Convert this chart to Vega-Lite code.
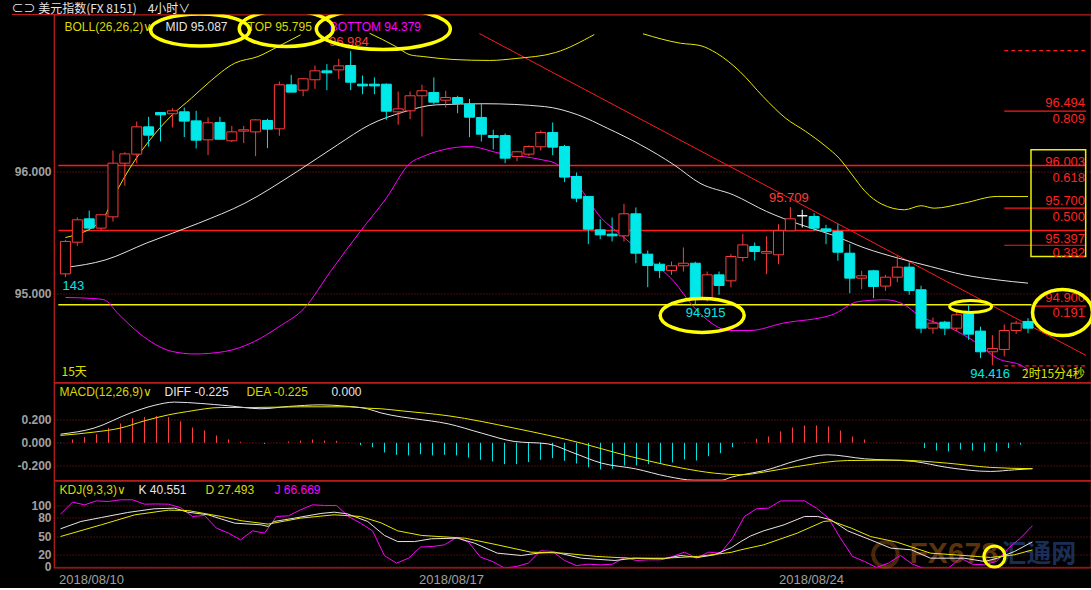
{
"$schema": "https://vega.github.io/schema/vega-lite/v6.json",
"background": "#000000",
"padding": {"left": 5, "top": 1.5, "right": 0, "bottom": 0},
"spacing": 0,
"bounds": "flush",
"resolve": {"scale": {"color": "independent"}},
"config": {
 "view": {"stroke": "#c01e1e", "strokeWidth": 1.2},
 "axis": {"domain": false, "ticks": false, "tickSize": 0, "labelColor": "#a0a0a0", "labelFont": "Liberation Sans", "labelFontSize": 12, "labelFontWeight": "bold", "gridColor": "#8e1b1b", "gridDash": [1, 2], "gridWidth": 1},
 "text": {"font": "Liberation Sans", "fontSize": 12, "baseline": "middle", "align": "left"},
 "line": {"strokeWidth": 1},
 "rule": {"strokeWidth": 1}
},
"datasets": {
 "candles": [
 {"k":0,"o":95.163,"h":95.441,"l":95.136,"c":95.428},
 {"k":1,"o":95.422,"h":95.624,"l":95.392,"c":95.605},
 {"k":2,"o":95.613,"h":95.681,"l":95.518,"c":95.537},
 {"k":3,"o":95.537,"h":95.651,"l":95.518,"c":95.646},
 {"k":4,"o":95.629,"h":96.172,"l":95.591,"c":96.068},
 {"k":5,"o":96.068,"h":96.158,"l":95.883,"c":96.144},
 {"k":6,"o":96.142,"h":96.409,"l":96.068,"c":96.365},
 {"k":7,"o":96.365,"h":96.447,"l":96.204,"c":96.297},
 {"k":8,"o":96.482,"h":96.482,"l":96.245,"c":96.463},
 {"k":9,"o":96.472,"h":96.518,"l":96.36,"c":96.496},
 {"k":10,"o":96.488,"h":96.523,"l":96.281,"c":96.412},
 {"k":11,"o":96.414,"h":96.496,"l":96.188,"c":96.256},
 {"k":12,"o":96.259,"h":96.442,"l":96.134,"c":96.398},
 {"k":13,"o":96.401,"h":96.447,"l":96.259,"c":96.264},
 {"k":14,"o":96.251,"h":96.373,"l":96.24,"c":96.324},
 {"k":15,"o":96.33,"h":96.373,"l":96.232,"c":96.341},
 {"k":16,"o":96.324,"h":96.428,"l":96.125,"c":96.422},
 {"k":17,"o":96.417,"h":96.431,"l":96.191,"c":96.346},
 {"k":18,"o":96.349,"h":96.736,"l":96.292,"c":96.709},
 {"k":19,"o":96.709,"h":96.79,"l":96.649,"c":96.649},
 {"k":20,"o":96.665,"h":96.763,"l":96.616,"c":96.758},
 {"k":21,"o":96.75,"h":96.867,"l":96.676,"c":96.823},
 {"k":22,"o":96.823,"h":96.878,"l":96.665,"c":96.807},
 {"k":23,"o":96.831,"h":96.921,"l":96.755,"c":96.864},
 {"k":24,"o":96.867,"h":96.984,"l":96.665,"c":96.73},
 {"k":25,"o":96.714,"h":96.785,"l":96.632,"c":96.7},
 {"k":26,"o":96.714,"h":96.769,"l":96.632,"c":96.7},
 {"k":27,"o":96.714,"h":96.72,"l":96.422,"c":96.493},
 {"k":28,"o":96.488,"h":96.654,"l":96.382,"c":96.512},
 {"k":29,"o":96.496,"h":96.654,"l":96.428,"c":96.619},
 {"k":30,"o":96.619,"h":96.709,"l":96.286,"c":96.66},
 {"k":31,"o":96.646,"h":96.769,"l":96.551,"c":96.567},
 {"k":32,"o":96.583,"h":96.66,"l":96.523,"c":96.605},
 {"k":33,"o":96.605,"h":96.619,"l":96.477,"c":96.556},
 {"k":34,"o":96.551,"h":96.594,"l":96.281,"c":96.444},
 {"k":35,"o":96.442,"h":96.551,"l":96.245,"c":96.305},
 {"k":36,"o":96.294,"h":96.341,"l":96.18,"c":96.278},
 {"k":37,"o":96.294,"h":96.311,"l":96.068,"c":96.109},
 {"k":38,"o":96.123,"h":96.169,"l":96.084,"c":96.161},
 {"k":39,"o":96.142,"h":96.213,"l":96.125,"c":96.204},
 {"k":40,"o":96.202,"h":96.335,"l":96.172,"c":96.319},
 {"k":41,"o":96.319,"h":96.401,"l":96.134,"c":96.199},
 {"k":42,"o":96.204,"h":96.218,"l":95.913,"c":95.954},
 {"k":43,"o":95.959,"h":95.992,"l":95.749,"c":95.782},
 {"k":44,"o":95.796,"h":95.796,"l":95.406,"c":95.528},
 {"k":45,"o":95.523,"h":95.61,"l":95.447,"c":95.482},
 {"k":46,"o":95.488,"h":95.624,"l":95.428,"c":95.474},
 {"k":47,"o":95.474,"h":95.736,"l":95.428,"c":95.654},
 {"k":48,"o":95.654,"h":95.706,"l":95.25,"c":95.332},
 {"k":49,"o":95.324,"h":95.354,"l":95.054,"c":95.231},
 {"k":50,"o":95.242,"h":95.259,"l":95.128,"c":95.191},
 {"k":51,"o":95.191,"h":95.264,"l":95.155,"c":95.229},
 {"k":52,"o":95.229,"h":95.379,"l":95.182,"c":95.25},
 {"k":53,"o":95.25,"h":95.262,"l":94.915,"c":94.955},
 {"k":54,"o":94.959,"h":95.182,"l":94.937,"c":95.155},
 {"k":55,"o":95.155,"h":95.182,"l":94.992,"c":95.068},
 {"k":56,"o":95.106,"h":95.324,"l":95.052,"c":95.305},
 {"k":57,"o":95.297,"h":95.49,"l":95.264,"c":95.4},
 {"k":58,"o":95.387,"h":95.419,"l":95.272,"c":95.346},
 {"k":59,"o":95.332,"h":95.469,"l":95.161,"c":95.346},
 {"k":60,"o":95.319,"h":95.569,"l":95.242,"c":95.515},
 {"k":61,"o":95.515,"h":95.709,"l":95.515,"c":95.613},
 {"k":62,"o":95.638,"h":95.687,"l":95.542,"c":95.638},
 {"k":63,"o":95.632,"h":95.659,"l":95.515,"c":95.537},
 {"k":64,"o":95.531,"h":95.564,"l":95.406,"c":95.51},
 {"k":65,"o":95.51,"h":95.569,"l":95.27,"c":95.34},
 {"k":66,"o":95.332,"h":95.406,"l":95.005,"c":95.128},
 {"k":67,"o":95.128,"h":95.188,"l":95.038,"c":95.147},
 {"k":68,"o":95.188,"h":95.196,"l":94.964,"c":95.06},
 {"k":69,"o":95.063,"h":95.155,"l":95.024,"c":95.136},
 {"k":70,"o":95.136,"h":95.313,"l":95.095,"c":95.218},
 {"k":71,"o":95.218,"h":95.256,"l":94.992,"c":95.027},
 {"k":72,"o":95.033,"h":95.066,"l":94.678,"c":94.719},
 {"k":73,"o":94.719,"h":94.806,"l":94.673,"c":94.76},
 {"k":74,"o":94.768,"h":94.779,"l":94.662,"c":94.719},
 {"k":75,"o":94.719,"h":94.869,"l":94.695,"c":94.828},
 {"k":76,"o":94.836,"h":94.91,"l":94.624,"c":94.67},
 {"k":77,"o":94.695,"h":94.731,"l":94.474,"c":94.526},
 {"k":78,"o":94.526,"h":94.662,"l":94.416,"c":94.553},
 {"k":79,"o":94.545,"h":94.749,"l":94.488,"c":94.7},
 {"k":80,"o":94.7,"h":94.779,"l":94.673,"c":94.76},
 {"k":81,"o":94.774,"h":94.801,"l":94.678,"c":94.719}
 ],
 "boll": [
 {"k":0,"b":"MID","g":1,"v":95.215},{"k":3.4,"b":"MID","g":1,"v":95.278},{"k":6.8,"b":"MID","g":1,"v":95.414},{"k":11.2,"b":"MID","g":1,"v":95.577},{"k":15.1,"b":"MID","g":1,"v":95.741},{"k":19.5,"b":"MID","g":1,"v":96.0},{"k":22.9,"b":"MID","g":1,"v":96.218},{"k":25.6,"b":"MID","g":1,"v":96.382},{"k":28.4,"b":"MID","g":1,"v":96.485},{"k":31.2,"b":"MID","g":1,"v":96.545},{"k":35.3,"b":"MID","g":1,"v":96.554},{"k":40.3,"b":"MID","g":1,"v":96.531},{"k":43.1,"b":"MID","g":1,"v":96.464},{"k":45.6,"b":"MID","g":1,"v":96.354},{"k":48.4,"b":"MID","g":1,"v":96.218},{"k":51.2,"b":"MID","g":1,"v":96.055},{"k":53.4,"b":"MID","g":1,"v":95.904},{"k":56.2,"b":"MID","g":1,"v":95.809},{"k":59,"b":"MID","g":1,"v":95.673},{"k":61.8,"b":"MID","g":1,"v":95.567},{"k":64.5,"b":"MID","g":1,"v":95.482},{"k":67.3,"b":"MID","g":1,"v":95.373},{"k":70.1,"b":"MID","g":1,"v":95.291},{"k":72.8,"b":"MID","g":1,"v":95.223},{"k":75.6,"b":"MID","g":1,"v":95.155},{"k":78.4,"b":"MID","g":1,"v":95.114},{"k":81,"b":"MID","g":1,"v":95.087},
 {"k":0,"b":"TOP","g":1,"v":95.46},{"k":3.1,"b":"TOP","g":1,"v":95.605},{"k":4.1,"b":"TOP","g":1,"v":95.8},{"k":5.6,"b":"TOP","g":1,"v":96.055},{"k":7,"b":"TOP","g":1,"v":96.245},{"k":9,"b":"TOP","g":1,"v":96.464},{"k":10.6,"b":"TOP","g":1,"v":96.599},{"k":12,"b":"TOP","g":1,"v":96.722},{"k":14.25,"b":"TOP","g":1,"v":96.886},{"k":16.2,"b":"TOP","g":1,"v":96.94},{"k":17.9,"b":"TOP","g":1,"v":97.022},{"k":19.8,"b":"TOP","g":1,"v":97.118},
 {"k":25.6,"b":"TOP","g":2,"v":97.13},{"k":27.8,"b":"TOP","g":2,"v":97.022},{"k":29,"b":"TOP","g":2,"v":96.954},{"k":30.1,"b":"TOP","g":2,"v":96.94},{"k":32.6,"b":"TOP","g":2,"v":96.916},{"k":35.7,"b":"TOP","g":2,"v":96.908},{"k":37.9,"b":"TOP","g":2,"v":96.924},{"k":41.25,"b":"TOP","g":2,"v":96.973},{"k":44.5,"b":"TOP","g":2,"v":97.12},
 {"k":48.6,"b":"TOP","g":3,"v":97.126},{"k":51.75,"b":"TOP","g":3,"v":97.049},{"k":53.4,"b":"TOP","g":3,"v":97.03},{"k":54.8,"b":"TOP","g":3,"v":96.967},{"k":56.75,"b":"TOP","g":3,"v":96.818},{"k":58.7,"b":"TOP","g":3,"v":96.613},{"k":60.6,"b":"TOP","g":3,"v":96.436},{"k":62.3,"b":"TOP","g":3,"v":96.327},{"k":64,"b":"TOP","g":3,"v":96.204},{"k":65.1,"b":"TOP","g":3,"v":96.109},{"k":66.2,"b":"TOP","g":3,"v":95.973},{"k":67.3,"b":"TOP","g":3,"v":95.836},{"k":68.7,"b":"TOP","g":3,"v":95.733},{"k":70.6,"b":"TOP","g":3,"v":95.687},{"k":72,"b":"TOP","g":3,"v":95.72},{"k":73.1,"b":"TOP","g":3,"v":95.7},{"k":75.6,"b":"TOP","g":3,"v":95.741},{"k":78.4,"b":"TOP","g":3,"v":95.796},{"k":81,"b":"TOP","g":3,"v":95.795},
 {"k":0,"b":"BOTTOM","g":1,"v":94.97},{"k":2.2,"b":"BOTTOM","g":1,"v":94.962},{"k":3.2,"b":"BOTTOM","g":1,"v":94.953},{"k":4.5,"b":"BOTTOM","g":1,"v":94.831},{"k":6.2,"b":"BOTTOM","g":1,"v":94.678},{"k":9,"b":"BOTTOM","g":1,"v":94.528},{"k":10.9,"b":"BOTTOM","g":1,"v":94.508},{"k":13.4,"b":"BOTTOM","g":1,"v":94.528},{"k":15.9,"b":"BOTTOM","g":1,"v":94.61},{"k":18,"b":"BOTTOM","g":1,"v":94.733},{"k":20.1,"b":"BOTTOM","g":1,"v":94.882},{"k":22.3,"b":"BOTTOM","g":1,"v":95.182},{"k":24.8,"b":"BOTTOM","g":1,"v":95.509},{"k":27,"b":"BOTTOM","g":1,"v":95.782},{"k":29,"b":"BOTTOM","g":1,"v":96.068},{"k":30.1,"b":"BOTTOM","g":1,"v":96.123},{"k":31.75,"b":"BOTTOM","g":1,"v":96.177},{"k":34,"b":"BOTTOM","g":1,"v":96.204},{"k":36.5,"b":"BOTTOM","g":1,"v":96.15},{"k":40.1,"b":"BOTTOM","g":1,"v":96.096},{"k":41.2,"b":"BOTTOM","g":1,"v":96.068},{"k":43.1,"b":"BOTTOM","g":1,"v":95.891},{"k":45.1,"b":"BOTTOM","g":1,"v":95.618},{"k":46.75,"b":"BOTTOM","g":1,"v":95.482},{"k":49,"b":"BOTTOM","g":1,"v":95.291},{"k":51.2,"b":"BOTTOM","g":1,"v":95.101},{"k":52.8,"b":"BOTTOM","g":1,"v":94.9},{"k":53.4,"b":"BOTTOM","g":1,"v":94.84},{"k":55.9,"b":"BOTTOM","g":1,"v":94.7},{"k":57.6,"b":"BOTTOM","g":1,"v":94.7},{"k":60.4,"b":"BOTTOM","g":1,"v":94.76},{"k":64.5,"b":"BOTTOM","g":1,"v":94.828},{"k":66.75,"b":"BOTTOM","g":1,"v":94.937},{"k":69,"b":"BOTTOM","g":1,"v":94.951},{"k":70.6,"b":"BOTTOM","g":1,"v":94.91},{"k":71.75,"b":"BOTTOM","g":1,"v":94.828},{"k":74.5,"b":"BOTTOM","g":1,"v":94.719},{"k":76.5,"b":"BOTTOM","g":1,"v":94.61},{"k":78.4,"b":"BOTTOM","g":1,"v":94.473},{"k":80.6,"b":"BOTTOM","g":1,"v":94.406},{"k":81,"b":"BOTTOM","g":1,"v":94.379}
 ],
 "macdH": [
 {"k":0,"v":-0.003},{"k":1,"v":0.029},{"k":2,"v":0.049},{"k":3,"v":0.075},{"k":4,"v":0.13},{"k":5,"v":0.168},{"k":6,"v":0.214},{"k":7,"v":0.223},{"k":8,"v":0.232},{"k":9,"v":0.223},{"k":10,"v":0.186},{"k":11,"v":0.133},{"k":12,"v":0.107},{"k":13,"v":0.064},{"k":14,"v":0.029},{"k":15,"v":0.009},{"k":16,"v":0.002},{"k":17,"v":-0.009},{"k":18,"v":0.002},{"k":19,"v":0.012},{"k":20,"v":0.02},{"k":21,"v":0.029},{"k":22,"v":0.02},{"k":23,"v":0.017},{"k":24,"v":0.001},{"k":25,"v":-0.02},{"k":26,"v":-0.038},{"k":27,"v":-0.084},{"k":28,"v":-0.104},{"k":29,"v":-0.11},{"k":30,"v":-0.099},{"k":31,"v":-0.11},{"k":32,"v":-0.104},{"k":33,"v":-0.11},{"k":34,"v":-0.128},{"k":35,"v":-0.148},{"k":36,"v":-0.162},{"k":37,"v":-0.186},{"k":38,"v":-0.186},{"k":39,"v":-0.168},{"k":40,"v":-0.148},{"k":41,"v":-0.133},{"k":42,"v":-0.157},{"k":43,"v":-0.18},{"k":44,"v":-0.214},{"k":45,"v":-0.232},{"k":46,"v":-0.226},{"k":47,"v":-0.197},{"k":48,"v":-0.197},{"k":49,"v":-0.186},{"k":50,"v":-0.177},{"k":51,"v":-0.171},{"k":52,"v":-0.145},{"k":53,"v":-0.154},{"k":54,"v":-0.116},{"k":55,"v":-0.09},{"k":56,"v":-0.038},{"k":57,"v":0.003},{"k":58,"v":0.035},{"k":59,"v":0.055},{"k":60,"v":0.099},{"k":61,"v":0.133},{"k":62,"v":0.151},{"k":63,"v":0.151},{"k":64,"v":0.142},{"k":65,"v":0.107},{"k":66,"v":0.055},{"k":67,"v":0.029},{"k":68,"v":0.003},{"k":69,"v":0.0},{"k":70,"v":0.003},{"k":71,"v":0.0},{"k":72,"v":-0.046},{"k":73,"v":-0.067},{"k":74,"v":-0.075},{"k":75,"v":-0.058},{"k":76,"v":-0.067},{"k":77,"v":-0.075},{"k":78,"v":-0.075},{"k":79,"v":-0.046},{"k":80,"v":-0.017},{"k":81,"v":0.0}
 ],
 "macdL": [
 {"k":0,"s":"DIFF","v":0.075},{"k":2.8,"s":"DIFF","v":0.128},{"k":5.8,"s":"DIFF","v":0.258},{"k":7.8,"s":"DIFF","v":0.325},{"k":9.5,"s":"DIFF","v":0.354},{"k":11.7,"s":"DIFF","v":0.342},{"k":14,"s":"DIFF","v":0.322},{"k":16.7,"s":"DIFF","v":0.296},{"k":19,"s":"DIFF","v":0.316},{"k":21.7,"s":"DIFF","v":0.33},{"k":23.7,"s":"DIFF","v":0.319},{"k":25.6,"s":"DIFF","v":0.295},{"k":26.7,"s":"DIFF","v":0.26},{"k":28.4,"s":"DIFF","v":0.225},{"k":29.5,"s":"DIFF","v":0.209},{"k":32.3,"s":"DIFF","v":0.165},{"k":35.1,"s":"DIFF","v":0.084},{"k":37.8,"s":"DIFF","v":0.012},{"k":40.6,"s":"DIFF","v":-0.009},{"k":42.8,"s":"DIFF","v":-0.09},{"k":45.1,"s":"DIFF","v":-0.177},{"k":47.9,"s":"DIFF","v":-0.226},{"k":50.6,"s":"DIFF","v":-0.293},{"k":52.8,"s":"DIFF","v":-0.325},{"k":55.1,"s":"DIFF","v":-0.325},{"k":55.9,"s":"DIFF","v":-0.299},{"k":56.8,"s":"DIFF","v":-0.278},{"k":58.6,"s":"DIFF","v":-0.243},{"k":61.4,"s":"DIFF","v":-0.154},{"k":63.9,"s":"DIFF","v":-0.104},{"k":67,"s":"DIFF","v":-0.139},{"k":71.1,"s":"DIFF","v":-0.162},{"k":73.9,"s":"DIFF","v":-0.214},{"k":77.5,"s":"DIFF","v":-0.249},{"k":79.5,"s":"DIFF","v":-0.235},{"k":81,"s":"DIFF","v":-0.225},
 {"k":0,"s":"DEA","v":0.064},{"k":2.8,"s":"DEA","v":0.093},{"k":5,"s":"DEA","v":0.128},{"k":7,"s":"DEA","v":0.191},{"k":9,"s":"DEA","v":0.243},{"k":10.6,"s":"DEA","v":0.272},{"k":13.4,"s":"DEA","v":0.307},{"k":16.2,"s":"DEA","v":0.307},{"k":20,"s":"DEA","v":0.313},{"k":24,"s":"DEA","v":0.313},{"k":25.6,"s":"DEA","v":0.301},{"k":26.7,"s":"DEA","v":0.296},{"k":28.4,"s":"DEA","v":0.278},{"k":32.3,"s":"DEA","v":0.235},{"k":37.8,"s":"DEA","v":0.128},{"k":43.4,"s":"DEA","v":-0.003},{"k":46.2,"s":"DEA","v":-0.084},{"k":49,"s":"DEA","v":-0.157},{"k":51.8,"s":"DEA","v":-0.22},{"k":54.5,"s":"DEA","v":-0.264},{"k":56.8,"s":"DEA","v":-0.278},{"k":58.6,"s":"DEA","v":-0.255},{"k":61.4,"s":"DEA","v":-0.206},{"k":65.6,"s":"DEA","v":-0.154},{"k":69.8,"s":"DEA","v":-0.151},{"k":73.9,"s":"DEA","v":-0.177},{"k":77.5,"s":"DEA","v":-0.214},{"k":81,"s":"DEA","v":-0.225}
 ],
 "kdj": [
 {"k":0,"s":"J","v":85.5},{"k":1,"s":"J","v":105},{"k":2,"s":"J","v":100.6},{"k":3,"s":"J","v":107},{"k":4,"s":"J","v":106},{"k":5,"s":"J","v":108.8},{"k":6,"s":"J","v":108.8},{"k":7,"s":"J","v":101.7},{"k":8,"s":"J","v":102},{"k":9,"s":"J","v":101.7},{"k":10,"s":"J","v":96},{"k":11,"s":"J","v":81.7},{"k":12,"s":"J","v":83.3},{"k":13,"s":"J","v":62.8},{"k":14,"s":"J","v":54.7},{"k":15,"s":"J","v":43.8},{"k":16,"s":"J","v":58.4},{"k":17,"s":"J","v":54.7},{"k":18,"s":"J","v":81.7},{"k":19,"s":"J","v":82.8},{"k":20,"s":"J","v":92.5},{"k":21,"s":"J","v":100.6},{"k":22,"s":"J","v":99.6},{"k":23,"s":"J","v":99.6},{"k":24,"s":"J","v":81.7},{"k":25,"s":"J","v":70.9},{"k":26,"s":"J","v":58.4},{"k":27,"s":"J","v":18},{"k":28,"s":"J","v":6},{"k":29,"s":"J","v":14},{"k":30,"s":"J","v":32},{"k":31,"s":"J","v":33},{"k":32,"s":"J","v":35.7},{"k":33,"s":"J","v":47.6},{"k":34,"s":"J","v":40},{"k":35,"s":"J","v":15.7},{"k":36,"s":"J","v":8.7},{"k":37,"s":"J","v":-2},{"k":38,"s":"J","v":0.5},{"k":39,"s":"J","v":6},{"k":40,"s":"J","v":26},{"k":41,"s":"J","v":25},{"k":42,"s":"J","v":10.3},{"k":43,"s":"J","v":2},{"k":44,"s":"J","v":4.3},{"k":45,"s":"J","v":3.2},{"k":46,"s":"J","v":4.3},{"k":47,"s":"J","v":15},{"k":48,"s":"J","v":10.3},{"k":49,"s":"J","v":11.4},{"k":50,"s":"J","v":11.4},{"k":51,"s":"J","v":16.8},{"k":52,"s":"J","v":23.8},{"k":53,"s":"J","v":14},{"k":54,"s":"J","v":23.8},{"k":55,"s":"J","v":22.2},{"k":56,"s":"J","v":46.5},{"k":57,"s":"J","v":81.7},{"k":58,"s":"J","v":94.2},{"k":59,"s":"J","v":95.2},{"k":60,"s":"J","v":107},{"k":61,"s":"J","v":107},{"k":62,"s":"J","v":107},{"k":63,"s":"J","v":95.2},{"k":64,"s":"J","v":79},{"k":65,"s":"J","v":46.5},{"k":66,"s":"J","v":16.8},{"k":67,"s":"J","v":8.7},{"k":68,"s":"J","v":-1},{"k":69,"s":"J","v":6},{"k":70,"s":"J","v":18.4},{"k":71,"s":"J","v":4.3},{"k":72,"s":"J","v":-3},{"k":73,"s":"J","v":-2},{"k":74,"s":"J","v":-2},{"k":75,"s":"J","v":14},{"k":76,"s":"J","v":4.3},{"k":77,"s":"J","v":3.2},{"k":78,"s":"J","v":8.7},{"k":79,"s":"J","v":30.3},{"k":80,"s":"J","v":46.5},{"k":81,"s":"J","v":66.669},
 {"k":0,"s":"K","v":61.7},{"k":1.7,"s":"K","v":73.6},{"k":3.4,"s":"K","v":80},{"k":5.6,"s":"K","v":88.2},{"k":7.8,"s":"K","v":94.2},{"k":9.5,"s":"K","v":95.2},{"k":10.6,"s":"K","v":88.7},{"k":12.3,"s":"K","v":84.4},{"k":14.5,"s":"K","v":70.9},{"k":16.7,"s":"K","v":68.2},{"k":17.3,"s":"K","v":65.5},{"k":17.8,"s":"K","v":73.6},{"k":19.5,"s":"K","v":79},{"k":21.7,"s":"K","v":86.6},{"k":22.8,"s":"K","v":88.7},{"k":23.9,"s":"K","v":86},{"k":25.6,"s":"K","v":73.6},{"k":27,"s":"K","v":50.9},{"k":28.1,"s":"K","v":41},{"k":29.5,"s":"K","v":41},{"k":30.9,"s":"K","v":45.5},{"k":33.1,"s":"K","v":46.5},{"k":34.5,"s":"K","v":38.4},{"k":36.4,"s":"K","v":22.2},{"k":38.4,"s":"K","v":18.4},{"k":39.8,"s":"K","v":22.2},{"k":41.2,"s":"K","v":23.8},{"k":43.4,"s":"K","v":14},{"k":46.2,"s":"K","v":10.3},{"k":47.8,"s":"K","v":14},{"k":50.3,"s":"K","v":13},{"k":51.7,"s":"K","v":18.4},{"k":53.1,"s":"K","v":15.2},{"k":54.5,"s":"K","v":19.5},{"k":55.9,"s":"K","v":31},{"k":56.7,"s":"K","v":41},{"k":57.5,"s":"K","v":50},{"k":58.6,"s":"K","v":58.4},{"k":60.3,"s":"K","v":68.2},{"k":62,"s":"K","v":81.7},{"k":63.1,"s":"K","v":81.7},{"k":64.2,"s":"K","v":76.3},{"k":65.6,"s":"K","v":58.4},{"k":67.5,"s":"K","v":43.8},{"k":69.2,"s":"K","v":30.3},{"k":70.9,"s":"K","v":27.6},{"k":72.5,"s":"K","v":14},{"k":75.3,"s":"K","v":14},{"k":77,"s":"K","v":8.7},{"k":78.1,"s":"K","v":14},{"k":79.5,"s":"K","v":24.9},{"k":81,"s":"K","v":40.551},
 {"k":0,"s":"D","v":49.2},{"k":3.4,"s":"D","v":68.2},{"k":6.2,"s":"D","v":84.4},{"k":9,"s":"D","v":92},{"k":10.6,"s":"D","v":91.4},{"k":13.4,"s":"D","v":81.7},{"k":15.1,"s":"D","v":74.7},{"k":17.3,"s":"D","v":69.3},{"k":20,"s":"D","v":79},{"k":22.8,"s":"D","v":84.4},{"k":25,"s":"D","v":81.7},{"k":26.7,"s":"D","v":71.5},{"k":28.1,"s":"D","v":58.4},{"k":30.1,"s":"D","v":50.9},{"k":33.7,"s":"D","v":46.5},{"k":36.4,"s":"D","v":35.7},{"k":39.2,"s":"D","v":23.8},{"k":41.9,"s":"D","v":22.2},{"k":44.7,"s":"D","v":16.8},{"k":47.5,"s":"D","v":14},{"k":50.3,"s":"D","v":14},{"k":53.1,"s":"D","v":16.8},{"k":55.9,"s":"D","v":23.5},{"k":56.7,"s":"D","v":27.6},{"k":58.6,"s":"D","v":35.7},{"k":61.4,"s":"D","v":54.7},{"k":63.6,"s":"D","v":73.6},{"k":64.2,"s":"D","v":74.7},{"k":65.9,"s":"D","v":62.8},{"k":67.5,"s":"D","v":49.2},{"k":69.7,"s":"D","v":40},{"k":72.5,"s":"D","v":22.2},{"k":75.3,"s":"D","v":18.4},{"k":77.5,"s":"D","v":15.2},{"k":79.5,"s":"D","v":19.5},{"k":81,"s":"D","v":27.493}
 ]
},
"vconcat": [
{
 "width": 1037, "height": 368,
 "encoding": {
  "x": {"field": "k", "type": "quantitative", "scale": {"domain": [-0.5417, 85.878], "nice": false, "zero": false}, "axis": null},
  "y": {"field": "v", "type": "quantitative", "scale": {"domain": [94.2747, 97.2837], "nice": false, "zero": false}, "axis": {"values": [95, 96], "format": ".3f", "grid": true, "minExtent": 48, "maxExtent": 48, "labelPadding": 3, "title": null}}
 },
 "layer": [
  {"data": {"values": [{"k": -4.53, "v": 97.3287, "t": "⊂⊃ 美元指数(FX 8151)\u00a0\u00a0\u00a0\u00a04小时∨"}]}, "mark": {"type": "text", "color": "#e6e6e6", "font": "Noto Sans CJK SC", "fontSize": 12}, "encoding": {"text": {"field": "t"}}},
  {"data": {"values": [{"k": -4.53, "k2": -0.54, "v": 97.2837}]}, "mark": {"type": "rule", "color": "#c01e1e", "strokeWidth": 1.2}, "encoding": {"x2": {"field": "k2"}}},
  {"data": {"values": [{"k": -0.6, "k2": 85.9, "v": 96.049}, {"k": -0.6, "k2": 85.9, "v": 95.518}]}, "mark": {"type": "rule", "color": "#ff1a1a", "strokeWidth": 1.5}, "encoding": {"x2": {"field": "k2"}}},
  {"data": {"values": [{"k": -0.6, "k2": 81.3, "v": 94.91}]}, "mark": {"type": "rule", "color": "#f0f000", "strokeWidth": 1.5}, "encoding": {"x2": {"field": "k2"}}},
  {"data": {"values": [{"k": 79, "k2": 85.9, "v": 96.494}, {"k": 79, "k2": 85.9, "v": 95.7}, {"k": 79, "k2": 85.9, "v": 95.397}, {"k": 81.3, "k2": 85.9, "v": 94.9}]}, "mark": {"type": "rule", "color": "#ff1a1a", "strokeWidth": 1.2}, "encoding": {"x2": {"field": "k2"}}},
  {"data": {"values": [{"k": 79, "k2": 85.9, "v": 96.989}, {"k": 79, "k2": 85.9, "v": 94.41}]}, "mark": {"type": "rule", "color": "#ff1a1a", "strokeWidth": 1.2, "strokeDash": [4, 3]}, "encoding": {"x2": {"field": "k2"}}},
  {"data": {"values": [{"k": 34.83, "v": 97.128}, {"k": 85.878, "v": 94.496}]}, "mark": {"type": "line", "color": "#ff1a1a", "strokeWidth": 1}},
  {"data": {"values": [{"k": 81.25, "k2": 85.85, "v": 96.177, "v2": 95.305}]}, "mark": {"type": "rect", "fillOpacity": 0, "stroke": "#f0f000", "strokeWidth": 1.5}, "encoding": {"x2": {"field": "k2"}, "y2": {"field": "v2"}}},
  {"data": {"name": "boll"}, "mark": {"type": "line", "strokeWidth": 1, "interpolate": "monotone"}, "encoding": {"color": {"field": "b", "type": "nominal", "scale": {"domain": ["MID", "TOP", "BOTTOM"], "range": ["#e0e0e0", "#e8e800", "#ff00ff"]}, "legend": null}, "detail": {"field": "g"}}},
  {"data": {"name": "candles"}, "mark": {"type": "rule", "strokeWidth": 1},
   "encoding": {"y": {"field": "l", "type": "quantitative", "scale": {"domain": [94.2747, 97.2837], "nice": false, "zero": false}, "axis": {"values": [95, 96], "format": ".3f", "grid": true, "minExtent": 48, "maxExtent": 48, "labelPadding": 3, "title": null}}, "y2": {"field": "h"},
    "stroke": {"condition": [{"test": "datum.c == datum.o", "value": "#ffffff"}, {"test": "datum.c > datum.o", "value": "#ff3b3b"}], "value": "#00e8e8"}}},
  {"data": {"name": "candles"}, "mark": {"type": "bar", "size": 10, "strokeWidth": 1},
   "encoding": {"y": {"field": "o", "type": "quantitative", "scale": {"domain": [94.2747, 97.2837], "nice": false, "zero": false}, "axis": {"values": [95, 96], "format": ".3f", "grid": true, "minExtent": 48, "maxExtent": 48, "labelPadding": 3, "title": null}}, "y2": {"field": "c"},
    "fill": {"condition": [{"test": "datum.c == datum.o", "value": "#ffffff"}, {"test": "datum.c > datum.o", "value": "#000000"}], "value": "#00e8e8"},
    "stroke": {"condition": [{"test": "datum.c == datum.o", "value": "#ffffff"}, {"test": "datum.c > datum.o", "value": "#ff3b3b"}], "value": "#00e8e8"}}},
  {"data": {"values": [{"k": -0.08, "v": 97.181, "t": "BOLL(26,26,2)∨"}, {"k": 15.33, "v": 97.181, "t": "TOP 95.795"}]}, "mark": {"type": "text", "color": "#d8d800"}, "encoding": {"text": {"field": "t"}}},
  {"data": {"values": [{"k": 8.42, "v": 97.181, "t": "MID 95.087"}]}, "mark": {"type": "text", "color": "#e6e6e6"}, "encoding": {"text": {"field": "t"}}},
  {"data": {"values": [{"k": 22.25, "v": 97.181, "t": "BOTTOM 94.379"}]}, "mark": {"type": "text", "color": "#ff00ff"}, "encoding": {"text": {"field": "t"}}},
  {"data": {"values": [{"k": -0.33, "v": 94.357, "t": "15天"}, {"k": 80.5, "v": 94.343, "t": "2时15分4秒"}]}, "mark": {"type": "text", "color": "#e0e000", "font": "Noto Sans CJK SC", "fontSize": 12}, "encoding": {"text": {"field": "t"}}},
  {"data": {"values": [{"k": 22.17, "v": 97.055, "t": "96.984"}, {"k": 59.2, "v": 95.787, "t": "95.709"}]}, "mark": {"type": "text", "color": "#ff3b3b", "fontSize": 13}, "encoding": {"text": {"field": "t"}}},
  {"data": {"values": [{"k": -0.25, "v": 95.064, "t": "143"}, {"k": 52.2, "v": 94.841, "t": "94.915"}, {"k": 76.14, "v": 94.343, "t": "94.416"}]}, "mark": {"type": "text", "color": "#00e8e8", "fontSize": 13}, "encoding": {"text": {"field": "t"}}},
  {"data": {"values": [{"k": 85.8, "v": 96.558, "t": "96.494"}, {"k": 85.8, "v": 96.428, "t": "0.809"}, {"k": 85.8, "v": 96.074, "t": "96.003"}, {"k": 85.8, "v": 95.945, "t": "0.618"}, {"k": 85.8, "v": 95.76, "t": "95.700"}, {"k": 85.8, "v": 95.632, "t": "0.500"}, {"k": 85.8, "v": 95.45, "t": "95.397"}, {"k": 85.8, "v": 95.332, "t": "0.382"}, {"k": 85.8, "v": 94.964, "t": "94.900"}, {"k": 85.8, "v": 94.841, "t": "0.191"}]}, "mark": {"type": "text", "color": "#ff2222", "fontSize": 13, "align": "right"}, "encoding": {"text": {"field": "t"}}},
  {"data": {"values": [{"k": 11.33, "v": 97.157}]}, "mark": {"type": "point", "clip": true, "shape": "M-1,0A1,0.323,0,1,1,1,0A1,0.323,0,1,1,-1,0Z", "size": 9801, "filled": false, "color": "#ffff00", "strokeWidth": 3.5, "opacity": 1}},
  {"data": {"values": [{"k": 18.58, "v": 97.169}]}, "mark": {"type": "point", "clip": true, "shape": "M-1,0A1,0.383,0,1,1,1,0A1,0.383,0,1,1,-1,0Z", "size": 8836, "filled": false, "color": "#ffff00", "strokeWidth": 3.5, "opacity": 1}},
  {"data": {"values": [{"k": 26.75, "v": 97.165}]}, "mark": {"type": "point", "clip": true, "shape": "M-1,0A1,0.306,0,1,1,1,0A1,0.306,0,1,1,-1,0Z", "size": 17956, "filled": false, "color": "#ffff00", "strokeWidth": 3.5, "opacity": 1}},
  {"data": {"values": [{"k": 53.58, "v": 94.823}]}, "mark": {"type": "point", "clip": true, "shape": "M-1,0A1,0.405,0,1,1,1,0A1,0.405,0,1,1,-1,0Z", "size": 7056, "filled": false, "color": "#ffff00", "strokeWidth": 3.5, "opacity": 1}},
  {"data": {"values": [{"k": 76.17, "v": 94.896}]}, "mark": {"type": "point", "clip": true, "shape": "M-1,0A1,0.286,0,1,1,1,0A1,0.286,0,1,1,-1,0Z", "size": 1764, "filled": false, "color": "#ffff00", "strokeWidth": 3, "opacity": 1}},
  {"data": {"values": [{"k": 83.9, "v": 94.847}]}, "mark": {"type": "point", "clip": true, "shape": "M-1,0A1,0.767,0,1,1,1,0A1,0.767,0,1,1,-1,0Z", "size": 3600, "filled": false, "color": "#ffff00", "strokeWidth": 3.5, "opacity": 1}}
 ]
},
{
 "width": 1037, "height": 98,
 "encoding": {
  "x": {"field": "k", "type": "quantitative", "scale": {"domain": [-0.5417, 85.878], "nice": false, "zero": false}, "axis": null},
  "y": {"field": "v", "type": "quantitative", "scale": {"domain": [-0.3278, 0.5243], "nice": false, "zero": false}, "axis": {"values": [-0.2, 0, 0.2], "labelExpr": "datum.value < 0 ? '-' + format(-datum.value, '.3f') : format(datum.value, '.3f')", "grid": true, "minExtent": 48, "maxExtent": 48, "labelPadding": 3, "title": null}}
 },
 "layer": [
  {"data": {"name": "macdH"}, "mark": {"type": "rule", "strokeWidth": 1}, "encoding": {"y2": {"datum": 0}, "stroke": {"condition": {"test": "datum.v >= 0", "value": "#ff4040"}, "value": "#00e8e8"}}},
  {"data": {"name": "macdL"}, "mark": {"type": "line", "strokeWidth": 1, "interpolate": "monotone"}, "encoding": {"color": {"field": "s", "type": "nominal", "scale": {"domain": ["DIFF", "DEA"], "range": ["#e6e6e6", "#e8e800"]}, "legend": null}}},
  {"data": {"values": [{"k": -0.08, "v": 0.44, "t": "MACD(12,26,9)∨"}, {"k": 15.5, "v": 0.44, "t": "DEA -0.225"}]}, "mark": {"type": "text", "color": "#d8d800"}, "encoding": {"text": {"field": "t"}}},
  {"data": {"values": [{"k": 8.67, "v": 0.44, "t": "DIFF -0.225"}, {"k": 22.58, "v": 0.44, "t": "0.000"}]}, "mark": {"type": "text", "color": "#e6e6e6"}, "encoding": {"text": {"field": "t"}}}
 ]
},
{
 "width": 1037, "height": 87,
 "encoding": {
  "x": {"field": "k", "type": "quantitative", "scale": {"domain": [-0.5417, 85.878], "nice": false, "zero": false}, "axis": {"values": [0, 30, 60], "labelExpr": "datum.value == 0 ? '2018/08/10' : datum.value == 30 ? '2018/08/17' : '2018/08/24'", "labelAlign": "left", "labelOffset": -2, "labelFontSize": 13, "labelFontWeight": "normal", "labelColor": "#a0a0a0", "labelPadding": 6, "labelFlush": false, "labelOverlap": false, "grid": false, "title": null}},
  "y": {"field": "v", "type": "quantitative", "scale": {"domain": [-1.1, 140.1], "nice": false, "zero": false}, "axis": {"values": [0, 20, 50, 80, 100], "format": "d", "grid": true, "minExtent": 48, "maxExtent": 48, "labelPadding": 3, "title": null}}
 },
 "layer": [
  {"data": {"values": [{"k": 70.75, "v": 20, "t": "FX678"}]}, "mark": {"type": "text", "color": "#b5651d", "opacity": 0.5, "fontSize": 30, "fontWeight": "bold"}, "encoding": {"text": {"field": "t"}}},
  {"data": {"values": [{"k": 78.4, "v": 20, "t": "汇通网"}]}, "mark": {"type": "text", "color": "#2a4d8f", "opacity": 0.6, "fontSize": 25, "fontWeight": "bold", "font": "Noto Sans CJK SC"}, "encoding": {"text": {"field": "t"}}},
  {"data": {"values": [{"k": 68.75, "v": 20}]}, "mark": {"type": "point", "shape": "circle", "size": 600, "filled": false, "color": "#b5651d", "strokeWidth": 4, "opacity": 0.4}},
  {"data": {"name": "kdj"}, "mark": {"type": "line", "strokeWidth": 1, "clip": true}, "encoding": {"color": {"field": "s", "type": "nominal", "scale": {"domain": ["K", "D", "J"], "range": ["#e6e6e6", "#e8e800", "#ff00ff"]}, "legend": null}}},
  {"data": {"values": [{"k": -0.08, "v": 123.9, "t": "KDJ(9,3,3)∨"}, {"k": 12.08, "v": 123.9, "t": "D 27.493"}]}, "mark": {"type": "text", "color": "#d8d800"}, "encoding": {"text": {"field": "t"}}},
  {"data": {"values": [{"k": 6.5, "v": 123.9, "t": "K 40.551"}]}, "mark": {"type": "text", "color": "#e6e6e6"}, "encoding": {"text": {"field": "t"}}},
  {"data": {"values": [{"k": 17.83, "v": 123.9, "t": "J 66.669"}]}, "mark": {"type": "text", "color": "#ff00ff"}, "encoding": {"text": {"field": "t"}}},
  {"data": {"values": [{"k": 77.83, "v": 16.7}]}, "mark": {"type": "point", "shape": "circle", "size": 441, "filled": false, "color": "#ffff00", "strokeWidth": 3, "opacity": 1}}
 ]
}
]
}
